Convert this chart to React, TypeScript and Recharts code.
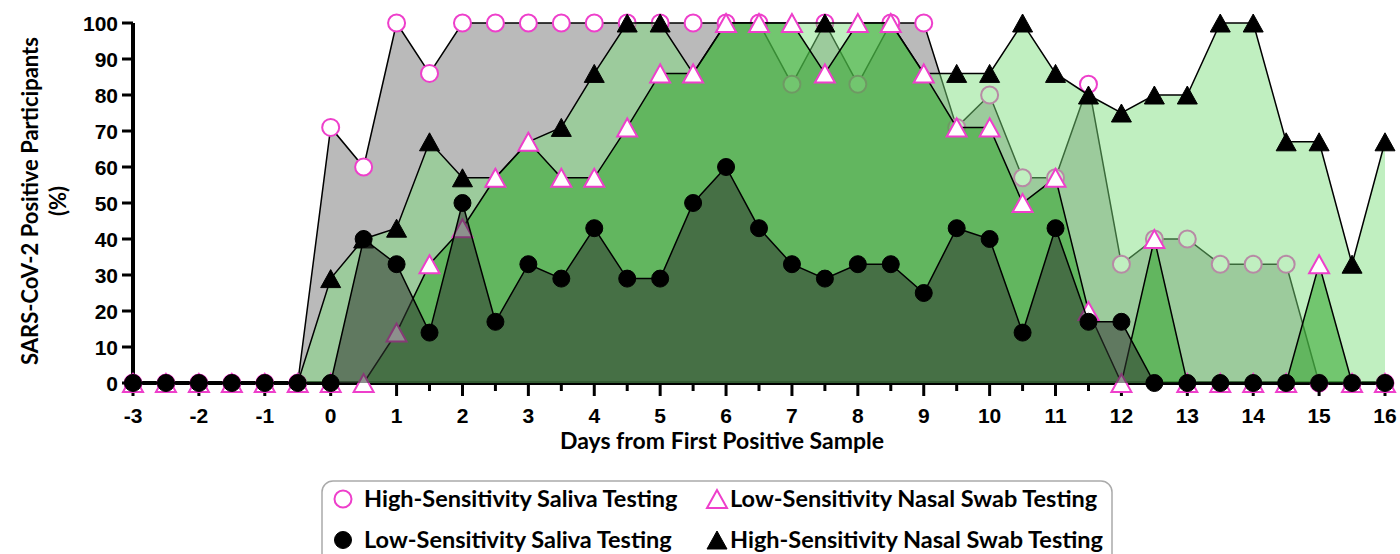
import { Area, ComposedChart, XAxis, YAxis } from "recharts";

const days = [
  -3, -2.5, -2, -1.5, -1, -0.5, 0, 0.5, 1, 1.5, 2, 2.5, 3, 3.5, 4, 4.5, 5, 5.5, 6, 6.5,
  7, 7.5, 8, 8.5, 9, 9.5, 10, 10.5, 11, 11.5, 12, 12.5, 13, 13.5, 14, 14.5, 15, 15.5, 16,
];

// % positive participants per half day
const hiSaliva = [
  0, 0, 0, 0, 0, 0, 71, 60, 100, 86, 100, 100, 100, 100, 100, 100, 100, 100, 100, 100,
  83, 100, 83, 100, 100, 71, 80, 57, 57, 83, 33, 40, 40, 33, 33, 33, 0, 0, 0,
];
const hiNasal = [
  0, 0, 0, 0, 0, 0, 29, 40, 43, 67, 57, 57, 67, 71, 86, 100, 100, 86, 100, 100,
  100, 100, 100, 100, 86, 86, 86, 100, 86, 80, 75, 80, 80, 100, 100, 67, 67, 33, 67,
];
const loNasal = [
  0, 0, 0, 0, 0, 0, 0, 0, 14, 33, 43, 57, 67, 57, 57, 71, 86, 86, 100, 100,
  100, 86, 100, 100, 86, 71, 71, 50, 57, 20, 0, 40, 0, 0, 0, 0, 33, 0, 0,
];
const loSaliva = [
  0, 0, 0, 0, 0, 0, 0, 40, 33, 14, 50, 17, 33, 29, 43, 29, 29, 50, 60, 43,
  33, 29, 33, 33, 25, 43, 40, 14, 43, 17, 17, 0, 0, 0, 0, 0, 0, 0, 0,
];

const yTicks = [0, 10, 20, 30, 40, 50, 60, 70, 80, 90, 100];

const data = days.map((d, i) => ({
  day: d,
  hiSaliva: hiSaliva[i],
  hiNasal: hiNasal[i],
  loNasal: loNasal[i],
  loSaliva: loSaliva[i],
}));

const PINK = "#EE3FCB";
const tickFont = "'Liberation Sans', Arial, sans-serif";
const titleFont = "Lato, 'Open Sans', sans-serif";
const W = 1400;
const H = 554;

// drawing order matters: each layer covers the ones before it
const layers = [
  { key: "hiSaliva", fill: "#BABABA", opacity: 1, shape: "c", open: true },
  { key: "hiNasal", fill: "#7CDE7C", opacity: 0.48, shape: "t", open: false },
  { key: "loNasal", fill: "#35A631", opacity: 0.56, shape: "t", open: true },
  { key: "loSaliva", fill: "#2F372F", opacity: 0.55, shape: "c", open: false },
] as const;

function Circle({ cx, cy, open }: { cx: number; cy: number; open: boolean }) {
  return (
    <circle
      cx={cx}
      cy={cy}
      r={8.5}
      fill={open ? "#fff" : "#000"}
      stroke={open ? PINK : "#000"}
      strokeWidth={open ? 2 : 1}
    />
  );
}

function Tri({ cx, cy, open }: { cx: number; cy: number; open: boolean }) {
  const pts = `${cx},${cy - 9} ${cx - 10},${cy + 9} ${cx + 10},${cy + 9}`;
  return (
    <polygon
      points={pts}
      fill={open ? "#fff" : "#000"}
      stroke={open ? PINK : "#000"}
      strokeWidth={open ? 2 : 1}
    />
  );
}

const dotFn = (shape: string, open: boolean) => (p: any) => {
  const k = `${shape}${open}${p.index}`;
  if (p.cx == null || p.cy == null) return <g key={k} />;
  return shape === "c" ? (
    <Circle key={k} cx={p.cx} cy={p.cy} open={open} />
  ) : (
    <Tri key={k} cx={p.cx} cy={p.cy} open={open} />
  );
};

function DayTick({ x, y, payload }: any) {
  const major = Number.isInteger(payload.value);
  return (
    <g>
      <line x1={x} x2={x} y1={y} y2={y + (major ? 13 : 8)} stroke="#000" strokeWidth={3} />
      {major && (
        <text
          x={x}
          y={y + 40}
          textAnchor="middle"
          fontFamily={tickFont}
          fontWeight="bold"
          fontSize={21}
          fill="#000"
        >
          {payload.value}
        </text>
      )}
    </g>
  );
}

function PctTick({ x, y, payload }: any) {
  return (
    <g>
      <line x1={x} x2={x - 11} y1={y} y2={y} stroke="#000" strokeWidth={3} />
      <text
        x={x - 15}
        y={y}
        dy="0.36em"
        textAnchor="end"
        fontFamily={tickFont}
        fontWeight="bold"
        fontSize={21}
        fill="#000"
      >
        {payload.value}
      </text>
    </g>
  );
}

function Legend() {
  const txt = {
    fontFamily: titleFont,
    fontWeight: 700,
    fontSize: 23.5,
    fill: "#000",
  } as const;
  return (
    <svg
      width={W}
      height={H}
      style={{ position: "absolute", left: 0, top: 0, pointerEvents: "none" }}
    >
      <rect x={322} y={481} width={790} height={90} rx={11} fill="#fff" stroke="#aaa" strokeWidth={1.5} />
      <Circle cx={343} cy={499} open />
      <text x={364} y={507} {...txt}>High-Sensitivity Saliva Testing</text>
      <Tri cx={717} cy={499} open />
      <text x={730} y={507} {...txt}>Low-Sensitivity Nasal Swab Testing</text>
      <Circle cx={343} cy={540} open={false} />
      <text x={364} y={548} {...txt}>Low-Sensitivity Saliva Testing</text>
      <Tri cx={717} cy={540} open={false} />
      <text x={730} y={548} {...txt}>High-Sensitivity Nasal Swab Testing</text>
    </svg>
  );
}

function SeriesArea({ l }: { l: (typeof layers)[number] }) {
  return (
    <Area
      type="linear"
      dataKey={l.key}
      stroke="#000"
      strokeWidth={1.5}
      fill={l.fill}
      fillOpacity={l.opacity}
      dot={dotFn(l.shape, l.open)}
      activeDot={false}
      isAnimationActive={false}
    />
  );
}

export default function App() {
  const [first, ...rest] = layers;
  return (
    <div style={{ position: "absolute", left: 0, top: 0, width: W, height: H, background: "#fff" }}>
      <ComposedChart
        width={W}
        height={H}
        data={data}
        margin={{ top: 23, right: 15, left: 0, bottom: 111 }}
      >
        <XAxis
          dataKey="day"
          type="number"
          domain={[-3, 16]}
          ticks={days}
          interval={0}
          height={60}
          tickSize={0}
          tickMargin={0}
          tickLine={false}
          axisLine={{ stroke: "#000", strokeWidth: 4 }}
          tick={<DayTick />}
          label={{
            content: () => (
              <text
                x={722}
                y={449}
                textAnchor="middle"
                fontFamily={titleFont}
                fontWeight={700}
                fontSize={23}
                fill="#000"
              >
                Days from First Positive Sample
              </text>
            ),
          }}
        />
        <YAxis
          type="number"
          domain={[0, 100]}
          ticks={yTicks}
          interval={0}
          width={133}
          tickSize={0}
          tickMargin={0}
          tickLine={false}
          axisLine={{ stroke: "#000", strokeWidth: 4 }}
          tick={<PctTick />}
          label={{
            content: () => (
              <g fontFamily={titleFont} fontWeight={700} fontSize={22} fill="#000">
                <text x={30} y={201} textAnchor="middle" transform="rotate(-90 30 201)" dy="0.35em">
                  SARS-CoV-2 Positive Participants
                </text>
                <text x={58} y={201} textAnchor="middle" transform="rotate(-90 58 201)" dy="0.35em">
                  (%)
                </text>
              </g>
            ),
          }}
        />
        {SeriesArea({ l: first })}
      </ComposedChart>
      {rest.map((l) => (
        <div key={l.key} style={{ position: "absolute", left: 0, top: 0 }}>
          <ComposedChart
            width={W}
            height={H}
            data={data}
            margin={{ top: 23, right: 15, left: 133, bottom: 171 }}
          >
            <XAxis dataKey="day" type="number" domain={[-3, 16]} hide />
            <YAxis type="number" domain={[0, 100]} hide />
            {SeriesArea({ l })}
          </ComposedChart>
        </div>
      ))}
      <Legend />
    </div>
  );
}
